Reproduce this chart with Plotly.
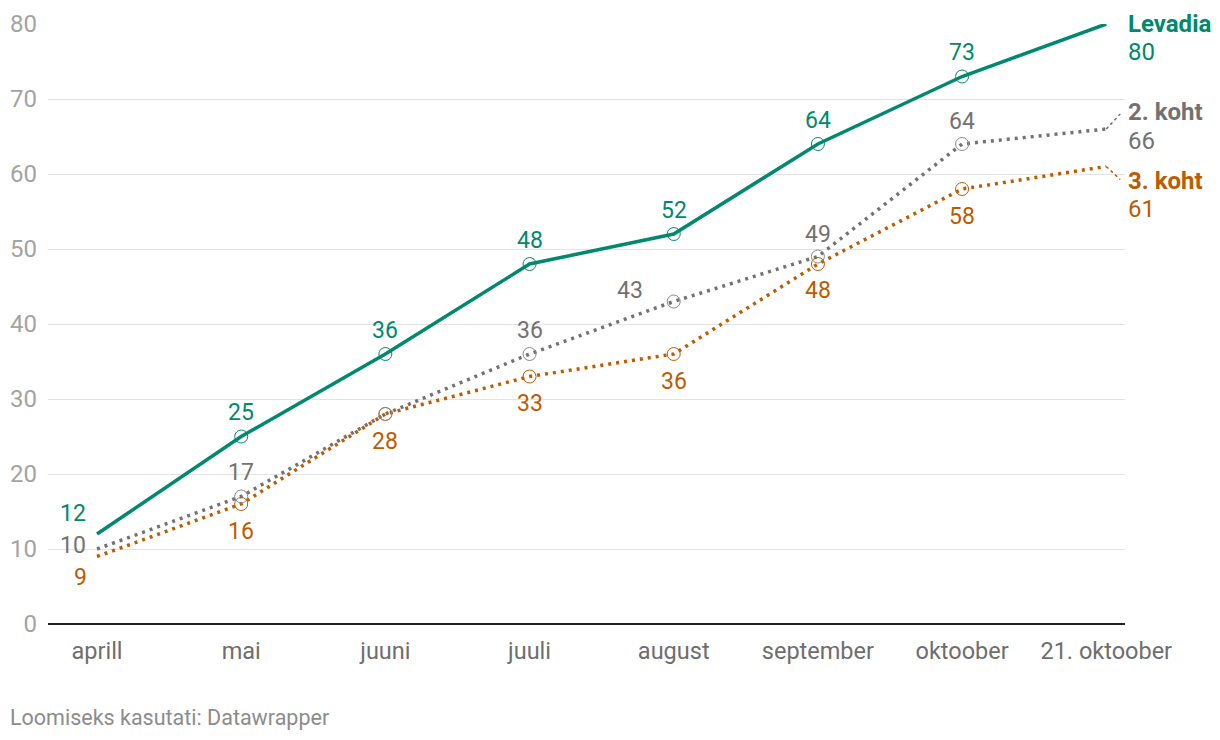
import plotly.graph_objects as go

months = ["aprill", "mai", "juuni", "juuli", "august", "september", "oktoober", "21. oktoober"]
levadia = [12, 25, 36, 48, 52, 64, 73, 80]
koht2 = [10, 17, 28, 36, 43, 49, 64, 66]
koht3 = [9, 16, 28, 33, 36, 48, 58, 61]
series_names = ["Levadia", "2. koht", "3. koht"]
y_ticks = [0, 10, 20, 30, 40, 50, 60, 70, 80]
source = "Loomiseks kasutati: Datawrapper"

GREEN = "#00896d"
GRAY = "#727272"
ORANGE = "#bd5b00"
FONT = "Roboto"

# page body has an 8px margin, so the figure is drawn 8px smaller
W, H = 1212, 732
ML, MR, MT, MB = 40, 95, 16, 116
PW, PH = W - ML - MR, H - MT - MB

x = list(range(len(months)))
fig = go.Figure()

fig.add_trace(go.Scatter(x=x, y=koht3, mode="lines", line=dict(color=ORANGE, width=3.5, dash="3px,5px"), hoverinfo="skip", cliponaxis=False))
fig.add_trace(go.Scatter(x=x, y=koht2, mode="lines", line=dict(color=GRAY, width=3.5, dash="3px,5px"), hoverinfo="skip", cliponaxis=False))
fig.add_trace(go.Scatter(x=x, y=levadia, mode="lines", line=dict(color=GREEN, width=3.5), hoverinfo="skip", cliponaxis=False))

for ys, col in [(koht3, ORANGE), (koht2, "#8a8a8a"), (levadia, GREEN)]:
    fig.add_trace(go.Scatter(x=x[1:-1], y=ys[1:-1], mode="markers",
                             marker=dict(symbol="circle-open", size=13, color=col, line=dict(width=1, color=col)),
                             hoverinfo="skip", cliponaxis=False))

annotations = []
def lab(xi, yv, text, col, dx, dy, bold=False, anchor="center", size=23):
    annotations.append(dict(x=xi, y=yv, xref="x", yref="y", text=("<b>%s</b>" % text) if bold else text,
                            showarrow=False, xshift=dx, yshift=dy, xanchor=anchor, yanchor="middle",
                            font=dict(family=FONT, size=size, color=col)))

g_off = [(-24, 21)] + [(0, 24)] * 6
for i in range(7):
    lab(x[i], levadia[i], str(levadia[i]), GREEN, *g_off[i])
k2_off = [(-24, 4), (0, 24), (0, 24), (0, 24), (-44, 11), (0, 22), (0, 23)]
for i in range(7):
    if i == 2:
        continue
    lab(x[i], koht2[i], str(koht2[i]), GRAY, *k2_off[i])
k3_off = [(-17, -21), (0, -27), (0, -27), (0, -27), (0, -27), (0, -26), (0, -27)]
for i in range(7):
    lab(x[i], koht3[i], str(koht3[i]), ORANGE, *k3_off[i])

last = len(months) - 1
lab(x[last], levadia[last], series_names[0], GREEN, 20, 0, bold=True, anchor="left", size=24)
lab(x[last], levadia[last], str(levadia[last]), GREEN, 20, -28, anchor="left", size=24)
lab(x[last], koht2[last], series_names[1], GRAY, 20, 17, bold=True, anchor="left", size=24)
lab(x[last], koht2[last], str(koht2[last]), GRAY, 20, -12, anchor="left", size=24)
lab(x[last], koht3[last], series_names[2], ORANGE, 20, -14, bold=True, anchor="left", size=24)
lab(x[last], koht3[last], str(koht3[last]), ORANGE, 20, -42, anchor="left", size=24)

annotations.append(dict(x=(0 - ML) / PW, y=(H - MB - 709) / PH, xref="paper", yref="paper", text=source,
                        showarrow=False, xanchor="left", yanchor="middle",
                        font=dict(family=FONT, size=21.5, color="#8c8c8c")))

xr = [-0.34, 7.13]
px_x = PW / (xr[1] - xr[0])
px_y = PH / 80
shapes = [
    dict(type="line", xref="x", yref="y", x0=last, y0=koht2[last], x1=last + 14 / px_x, y1=koht2[last] + 15 / px_y,
         line=dict(color=GRAY, width=1.5, dash="3px,3px")),
    dict(type="line", xref="x", yref="y", x0=last, y0=koht3[last], x1=last + 14 / px_x, y1=koht3[last] - 13 / px_y,
         line=dict(color=ORANGE, width=1.5, dash="3px,3px")),
]

fig.update_layout(
    width=W, height=H,
    margin=dict(l=ML, r=MR, t=MT, b=MB, autoexpand=False),
    paper_bgcolor="white", plot_bgcolor="white",
    showlegend=False,
    font=dict(family=FONT),
    annotations=annotations,
    shapes=shapes,
    xaxis=dict(range=xr, tickmode="array", tickvals=x, ticktext=months, automargin=False,
               showgrid=False, zeroline=False, showline=False, ticks="",
               tickfont=dict(family=FONT, size=23.5, color="#6e6e6e"), ticklabelstandoff=10),
    yaxis=dict(range=[0, 80], tickmode="array", tickvals=y_ticks, showgrid=True, gridcolor="#e3e3e3", gridwidth=1,
               automargin=False,
               zeroline=True, zerolinecolor="#222222", zerolinewidth=2, showline=False, ticks="",
               tickfont=dict(family=FONT, size=24, color="#a3a3a3"), ticklabelstandoff=10),
)
fig.write_html("out.html")
